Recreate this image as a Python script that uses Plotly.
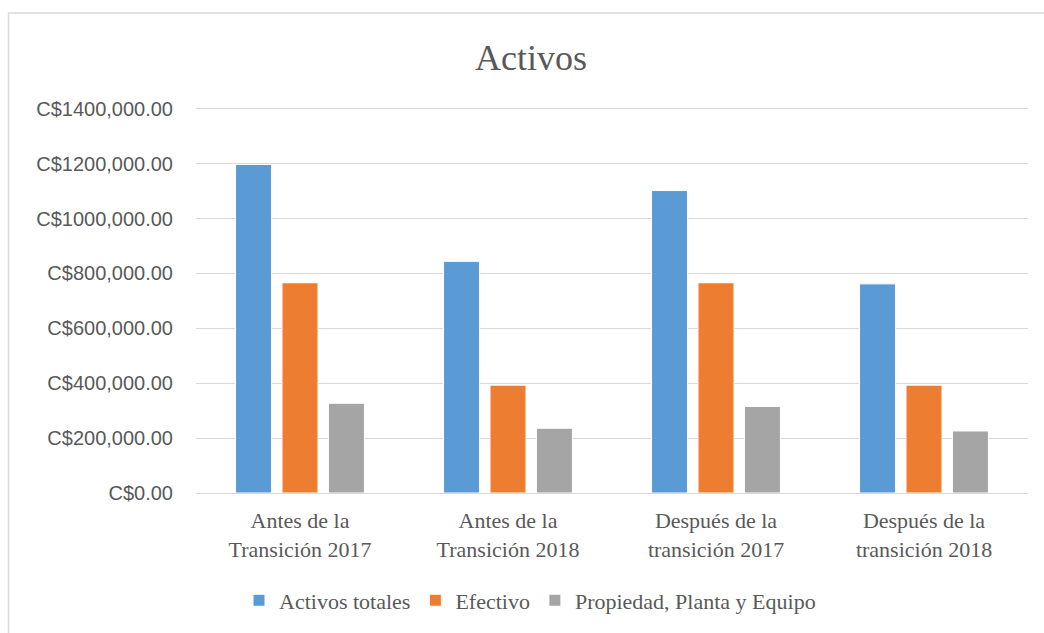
import plotly.graph_objects as go

categories = ["Antes de la<br>Transición 2017", "Antes de la<br>Transición 2018",
              "Después de la<br>transición 2017", "Después de la<br>transición 2018"]
series_names = ["Activos totales", "Efectivo", "Propiedad, Planta y Equipo"]
activos_totales = [1197000, 844000, 1102000, 762000]
efectivo = [766000, 393000, 766000, 393000]
propiedad = [327000, 236000, 315000, 226000]
colors = ["#5b9bd5", "#ed7d31", "#a5a5a5"]
tick_vals = [0, 200000, 400000, 600000, 800000, 1000000, 1200000, 1400000]
tick_text = ["C$0.00", "C$200,000.00", "C$400,000.00", "C$600,000.00",
             "C$800,000.00", "C$1000,000.00", "C$1200,000.00", "C$1400,000.00"]

fig = go.Figure()
for name, vals, col in zip(series_names, [activos_totales, efectivo, propiedad], colors):
    fig.add_trace(go.Bar(x=categories, y=vals, name=name,
                         marker=dict(color=col, line=dict(color="white", width=1))))

L, R, T, B = 196, 16, 106, 138
W, H = 1044, 633
pw = W - L - R
ph = H - T - B

fig.update_layout(
    width=W, height=H,
    margin=dict(l=L, r=R, t=T, b=B),
    paper_bgcolor="white", plot_bgcolor="white",
    barmode="group", bargap=0.33, bargroupgap=0.225,
    title=dict(text="Activos", x=531 / W, xanchor="center", y=1 - 57 / H, yanchor="middle",
               font=dict(family="Liberation Serif", size=36, color="#595959")),
    xaxis=dict(showgrid=False, showline=False, ticks="", ticklabelstandoff=12,
               tickfont=dict(family="Liberation Serif", size=22, color="#595959")),
    yaxis=dict(range=[0, 1410000], tickvals=tick_vals, ticktext=tick_text,
               showgrid=True, gridcolor="#d9d9d9", gridwidth=1.3,
               zeroline=True, zerolinecolor="#d9d9d9", zerolinewidth=1.3,
               ticks="", ticklabelstandoff=22,
               tickfont=dict(family="Liberation Sans", size=20, color="#595959")),
    legend=dict(orientation="h", x=(530 - L) / pw, xanchor="center",
                y=-(603 - (H - B)) / ph, yanchor="middle",
                font=dict(family="Liberation Serif", size=22, color="#595959"),
                itemwidth=30, tracegroupgap=0),
    shapes=[dict(type="rect", xref="paper", yref="paper",
                 x0=(8.5 - L) / pw, x1=(1060 - L) / pw,
                 y0=((H - B) - 650) / ph, y1=((H - B) - 12.5) / ph,
                 line=dict(color="#d9d9d9", width=1.5), fillcolor="rgba(0,0,0,0)", layer="below")],
)

fig.write_html("out.html")
